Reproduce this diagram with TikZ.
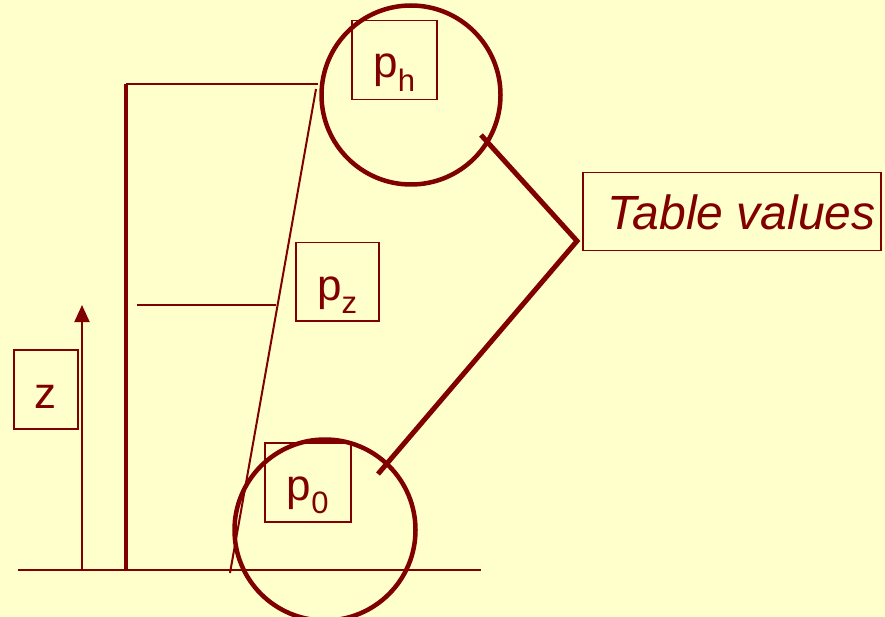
\documentclass[tikz,border=0pt]{standalone}
\usepackage{fontspec}
\setmainfont{Liberation Sans}
\usetikzlibrary{arrows.meta}
\definecolor{paper}{HTML}{FFFFCC}
\definecolor{ink}{HTML}{800000}
% lowered index set in a smaller size
\newcommand{\lowidx}[1]{\raisebox{-0.3em}{\fontsize{31}{34}\selectfont #1}}
\begin{document}
\begin{tikzpicture}[x=1pt,y=-1pt,
  thin line/.style={draw=ink,line width=2pt},
  thick line/.style={draw=ink,line width=4pt},
  bold line/.style={draw=ink,line width=5pt},
  ring/.style={draw=ink,line width=4.5pt},
  labelbox/.style={draw=ink,line width=1.5pt,inner sep=0pt,anchor=north west},
  labeltext/.style={text=ink,inner sep=0pt,anchor=base,font=\fontsize{44}{48}\selectfont}]
  % background
  \fill[paper] (0,0) rectangle (885,617);
  \useasboundingbox (0,0) rectangle (885,617);

  % ground line
  \coordinate (gl) at (18,570);
  \coordinate (gr) at (481,570);
  \draw[thin line] (gl) -- (gr);

  % height axis
  \coordinate (ab) at (82,570);
  \coordinate (at) at (82,305);
  \draw[thin line,-{Triangle[length=17pt,width=15pt]}] (ab) -- (at);
  \node[labelbox,minimum width=64pt,minimum height=79pt] (z) at (13,349) {};
  \node[labeltext] (ztext) at ([yshift=-59pt]z.north) {z};

  % column and level lines
  \coordinate (cb) at (126,570);
  \coordinate (ct) at (126,84);
  \coordinate (htop) at (318,84);
  \draw[thick line] (cb) -- (ct);
  \draw[thin line] (ct) -- (htop);
  \coordinate (zl) at (137,305);
  \coordinate (zr) at (276,305);
  \draw[thin line] (zl) -- (zr);

  % pressure profile
  \coordinate (sb) at (230,573);
  \coordinate (st) at (316,89);
  \draw[thin line] (sb) -- (st);

  % pressure labels
  \node[labelbox,minimum width=85pt,minimum height=79pt] (ph) at (351,20) {};
  \node[labeltext] (phtext) at ([yshift=-58pt]ph.north) {p\lowidx{h}};
  \node[labelbox,minimum width=83pt,minimum height=78pt] (pz) at (295,242) {};
  \node[labeltext] (pztext) at ([yshift=-58pt]pz.north) {p\lowidx{z}};
  \node[labelbox,minimum width=86pt,minimum height=79pt] (p0) at (264,442) {};
  \node[labeltext] (p0text) at ([yshift=-58pt]p0.north) {p\lowidx{0}};

  % highlighted rings
  \node[ring,circle,minimum size=179pt,inner sep=0pt] (top) at (411,95) {};
  \node[ring,circle,minimum size=181pt,inner sep=0pt] (bot) at (325,530) {};

  % table values callout
  \node[labelbox,minimum width=298pt,minimum height=78pt] (tv) at (582,172) {};
  \node[labeltext,font=\fontsize{48}{52}\selectfont\itshape] (tvtext) at ([xshift=10pt,yshift=-58pt]tv.north) {Table values};
  \coordinate (c1) at (481,135);
  \coordinate (c2) at (577,241);
  \coordinate (c3) at (378,474);
  \draw[bold line,line join=miter] (c1) -- (c2) -- (c3);
\end{tikzpicture}
\end{document}
